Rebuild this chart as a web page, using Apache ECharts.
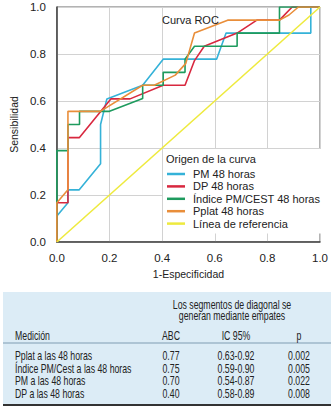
<!DOCTYPE html>
<html>
<head>
<meta charset="utf-8">
<script src="https://cdn.jsdelivr.net/npm/echarts@6/dist/echarts.min.js"></script>
<style>
  html, body { margin: 0; padding: 0; background: #fff; }
  #myChartsRoc { width: 331px; height: 411px; }
</style>
</head>
<body>
<div id="myChartsRoc"></div>
<script>
// curvas ROC: pares [1-especificidad, sensibilidad]
const pm48 = [[0, 0], [0, 0.111], [0.042, 0.167], [0.042, 0.222], [0.085, 0.222], [0.166, 0.333], [0.166, 0.5],
  [0.19, 0.609], [0.326, 0.667], [0.404, 0.778], [0.607, 0.778], [0.643, 0.889], [0.965, 0.889], [0.965, 1], [1, 1]]
const dp48 = [[0, 0], [0, 0.167], [0.042, 0.167], [0.042, 0.444], [0.085, 0.444], [0.205, 0.609], [0.278, 0.609],
  [0.404, 0.667], [0.487, 0.667], [0.523, 0.772], [0.56, 0.833], [0.685, 0.889], [0.76, 0.944], [0.846, 0.944],
  [0.894, 1], [1, 1]]
const indice48 = [[0, 0], [0, 0.389], [0.042, 0.389], [0.042, 0.5], [0.086, 0.5], [0.086, 0.556], [0.2, 0.556],
  [0.326, 0.611], [0.326, 0.667], [0.404, 0.667], [0.404, 0.722], [0.487, 0.722], [0.487, 0.778], [0.523, 0.833],
  [0.685, 0.833], [0.685, 0.889], [0.846, 0.889], [0.846, 1], [1, 1]]
const pplat48 = [[0, 0], [0, 0.167], [0.042, 0.222], [0.042, 0.556], [0.165, 0.556], [0.326, 0.667], [0.37, 0.667],
  [0.45, 0.71], [0.49, 0.76], [0.523, 0.889], [0.649, 0.944], [0.846, 0.944], [0.882, 0.966], [0.918, 1], [1, 1]]
const referencia = [[0, 0], [1, 1]]

const seriesNames = ['PM 48 horas', 'DP 48 horas', 'Índice PM/CEST 48 horas', 'Pplat 48 horas', 'Línea de referencia']
const seriesColors = ['#35b2d8', '#d8283f', '#1e9b5e', '#e98e3a', '#eeea3e']

// tabla
const tablaTitulo = ['Los segmentos de diagonal se', 'generan mediante empates']
const columnas = ['Medición', 'ABC', 'IC 95%', 'p']
const medicion = ['Pplat a las 48 horas', 'Índice PM/Cest a las 48 horas', 'PM a las 48 horas', 'DP a las 48 horas']
const abc = ['0.77', '0.75', '0.70', '0.40']
const ic95 = ['0.63-0.92', '0.59-0.90', '0.54-0.87', '0.58-0.89']
const pValor = ['0.002', '0.005', '0.022', '0.008']

// texto estrecho (escalado en x) para imitar la tipografía condensada de la tabla
const txt = (text, x, y, align) => ({
  type: 'text',
  x: x,
  y: y,
  scaleX: 0.7,
  style: {
    text: text,
    fill: '#222',
    font: '12.5px "Liberation Sans", Arial, sans-serif',
    align: align || 'center',
    verticalAlign: 'middle'
  }
})

const tabla = [
  { type: 'rect', shape: { x: 3, y: 292, width: 328, height: 113 }, style: { fill: '#dcecf6' }},
  { type: 'line', shape: { x1: 3, y1: 343, x2: 331, y2: 343 }, style: { stroke: '#7f9cb2', lineWidth: 1 }},
  { type: 'line', shape: { x1: 3, y1: 405, x2: 331, y2: 405 }, style: { stroke: '#333', lineWidth: 2 }},
  txt(tablaTitulo[0], 232, 304),
  txt(tablaTitulo[1], 232, 315),
  txt(columnas[0], 15, 335, 'left'),
  txt(columnas[1], 171, 335),
  txt(columnas[2], 236, 335),
  txt(columnas[3], 299, 335)
]
const rowY = [355, 368, 380, 393]
medicion.forEach((m, i) => {
  tabla.push(txt(m, 15, rowY[i], 'left'))
  tabla.push(txt(abc[i], 171, rowY[i]))
  tabla.push(txt(ic95[i], 236, rowY[i]))
  tabla.push(txt(pValor[i], 299, rowY[i]))
})

const datos = [pm48, dp48, indice48, pplat48, referencia]

const option = {
  animation: false,
  textStyle: { fontFamily: 'Liberation Sans, Arial, sans-serif' },
  title: [
    {
      text: 'Curva ROC',
      left: 157,
      top: 9,
      textStyle: { fontSize: 11, fontWeight: 'normal', color: '#222' }
    },
    {
      text: 'Origen de la curva',
      left: 166,
      top: 153,
      padding: 0,
      textStyle: { fontSize: 11, fontWeight: 'normal', color: '#222' }
    }
  ],
  grid: {
    left: 44,
    top: 7,
    right: 8,
    bottom: 169,
    show: true,
    borderColor: '#666',
    borderWidth: 1
  },
  legend: {
    orient: 'vertical',
    left: 163,
    top: 149,
    padding: [19, 6, 4, 4],
    backgroundColor: '#fff',
    icon: 'rect',
    itemWidth: 18,
    itemHeight: 2.5,
    itemGap: 0.4,
    textStyle: { fontSize: 11, color: '#222', lineHeight: 12, padding: [0, 0, 0, 3] },
    data: seriesNames
  },
  xAxis: {
    type: 'value',
    min: 0,
    max: 1,
    interval: 0.2,
    name: '1-Especificidad',
    nameLocation: 'middle',
    nameGap: 26,
    nameTextStyle: { fontSize: 10.5, color: '#222' },
    axisLine: { show: true, lineStyle: { color: '#444', width: 1.5 }},
    axisTick: { show: false },
    axisLabel: { fontSize: 11.5, color: '#222', margin: 10, formatter: v => v.toFixed(1) },
    splitLine: { show: true, lineStyle: { color: '#d2d2d2' }}
  },
  yAxis: {
    type: 'value',
    min: 0,
    max: 1,
    interval: 0.2,
    name: 'Sensibilidad',
    nameLocation: 'middle',
    nameGap: 31,
    nameTextStyle: { fontSize: 10.5, color: '#222' },
    axisLine: { show: true, lineStyle: { color: '#444', width: 1.5 }},
    axisTick: { show: false },
    axisLabel: { fontSize: 11.5, color: '#222', margin: 11, formatter: v => v.toFixed(1) },
    splitLine: { show: true, lineStyle: { color: '#d2d2d2' }}
  },
  series: datos.map((d, i) => ({
    type: 'line',
    name: seriesNames[i],
    data: d,
    symbol: 'none',
    color: seriesColors[i],
    lineStyle: { color: seriesColors[i], width: 1.6 }
  })),
  graphic: tabla
}

const myChart = echarts.init(document.getElementById('myChartsRoc'), null, { renderer: 'svg' })
myChart.setOption(option)
</script>
</body>
</html>
